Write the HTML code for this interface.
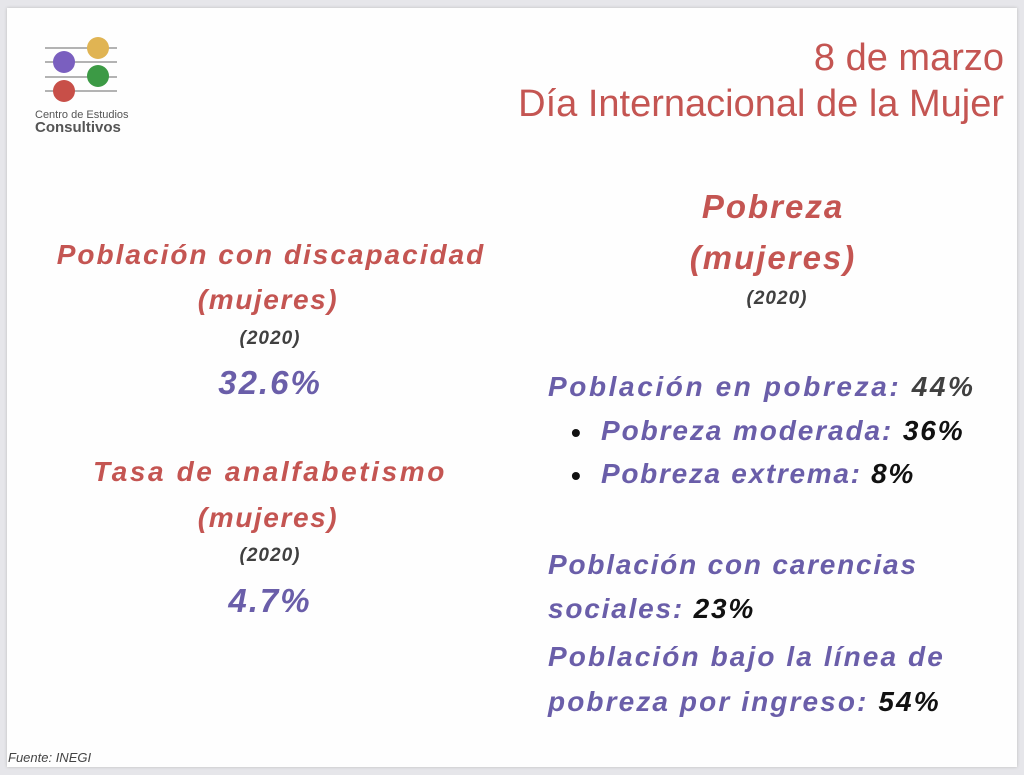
<!DOCTYPE html>
<html><head><meta charset="utf-8"><style>
body{margin:0;width:1024px;height:775px;background:#e6e6ea;overflow:hidden;font-family:"Liberation Sans",sans-serif}
.card{position:absolute;left:7px;top:8px;width:1010px;height:759px;background:#fefefe;box-shadow:0 0 3px #bbb}
.t{position:absolute;white-space:nowrap;font-weight:bold;font-style:italic;letter-spacing:2px}
.r{color:#c45552}.p{color:#6a5ea9}.k{color:#111}.g{color:#404040}
.c{transform:translateX(-50%)}
</style></head><body>
<div class="card"></div>
<svg style="position:absolute;left:0;top:0" width="1024" height="775">
<g stroke="#9a9a9a" stroke-width="1.5"><line x1="45" y1="48" x2="117" y2="48"/><line x1="45" y1="62" x2="117" y2="62"/><line x1="45" y1="77" x2="117" y2="77"/><line x1="45" y1="91" x2="117" y2="91"/></g>
<circle cx="98" cy="48" r="11" fill="#e0b453"/><circle cx="64" cy="62" r="11" fill="#7a5fbf"/><circle cx="98" cy="76" r="11" fill="#3c9a45"/><circle cx="64" cy="91" r="11" fill="#c84f48"/>
</svg>
<div class="t" style="left:35px;top:109px;font-size:11px;font-style:normal;font-weight:normal;letter-spacing:0;color:#555">Centro de Estudios</div>
<div class="t" style="left:35px;top:119px;font-size:15px;font-style:normal;letter-spacing:0;color:#555">Consultivos</div>
<div class="t r" style="right:20px;top:37px;font-size:38px;font-weight:normal;font-style:normal;letter-spacing:0">8 de marzo</div>
<div class="t r" style="right:20px;top:83px;font-size:38px;font-weight:normal;font-style:normal;letter-spacing:0">Día Internacional de la Mujer</div>

<div class="t r c" style="left:271px;top:239px;font-size:28px;letter-spacing:2px">Población con discapacidad</div>
<div class="t r c" style="left:268px;top:284px;font-size:28px;letter-spacing:1.6px">(mujeres)</div>
<div class="t g c" style="left:270px;top:328px;font-size:19px;letter-spacing:1px">(2020)</div>
<div class="t p c" style="left:270px;top:364px;font-size:33px">32.6%</div>
<div class="t r c" style="left:270px;top:456px;font-size:28px;letter-spacing:2.6px">Tasa de analfabetismo</div>
<div class="t r c" style="left:268px;top:502px;font-size:28px;letter-spacing:1.6px">(mujeres)</div>
<div class="t g c" style="left:270px;top:545px;font-size:19px;letter-spacing:1px">(2020)</div>
<div class="t p c" style="left:270px;top:582px;font-size:33px">4.7%</div>

<div class="t r c" style="left:773px;top:188px;font-size:33px">Pobreza</div>
<div class="t r c" style="left:773px;top:239px;font-size:33px">(mujeres)</div>
<div class="t g c" style="left:777px;top:288px;font-size:19px;letter-spacing:1px">(2020)</div>

<div class="t p" style="left:548px;top:371px;font-size:28px;letter-spacing:2.6px">Población en pobreza: <span class="g">44%</span></div>
<div class="t k" style="left:571px;top:417px;font-size:28px;font-style:normal">•</div>
<div class="t p" style="left:601px;top:415px;font-size:28px;letter-spacing:1.9px">Pobreza moderada: <span class="k">36%</span></div>
<div class="t k" style="left:571px;top:460px;font-size:28px;font-style:normal">•</div>
<div class="t p" style="left:601px;top:458px;font-size:28px;letter-spacing:1.7px">Pobreza extrema: <span class="k">8%</span></div>
<div class="t p" style="left:548px;top:549px;font-size:28px;letter-spacing:1.8px">Población con carencias</div>
<div class="t p" style="left:548px;top:593px;font-size:28px;letter-spacing:1.8px">sociales: <span class="k">23%</span></div>
<div class="t p" style="left:548px;top:641px;font-size:28px;letter-spacing:2.1px">Población bajo la línea de</div>
<div class="t p" style="left:548px;top:686px;font-size:28px;letter-spacing:2.1px">pobreza por ingreso: <span class="k">54%</span></div>

<div class="t" style="left:8px;top:750px;font-size:13px;font-weight:normal;letter-spacing:0;color:#444">Fuente: INEGI</div>
</body></html>
